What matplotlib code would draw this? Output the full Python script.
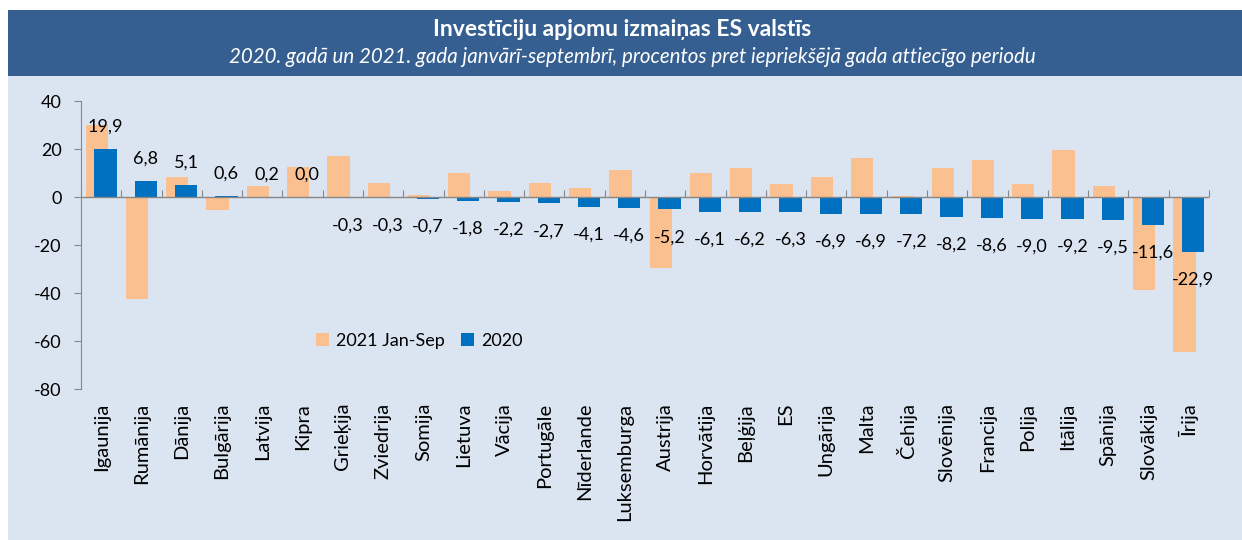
import numpy as np
import matplotlib
matplotlib.use("Agg")
import matplotlib.pyplot as plt
from matplotlib.patches import Rectangle

plt.rcParams['font.family'] = ['Lato', 'DejaVu Sans']
plt.rcParams['axes.unicode_minus'] = False

# data
countries = ["Igaunija", "Rumānija", "Dānija", "Bulgārija", "Latvija", "Kipra",
             "Grieķija", "Zviedrija", "Somija", "Lietuva", "Vācija", "Portugāle",
             "Nīderlande", "Luksemburga", "Austrija", "Horvātija", "Beļģija", "ES",
             "Ungārija", "Malta", "Čehija", "Slovēnija", "Francija", "Polija",
             "Itālija", "Spānija", "Slovākija", "Īrija"]
jan_sep_2021 = [30.0, -42.6, 8.3, -5.3, 4.6, 12.5, 16.9, 5.8, 0.8, 10.0, 2.5, 5.8,
                3.6, 11.3, -29.4, 9.9, 12.1, 5.3, 8.5, 16.4, 0.4, 12.2, 15.3, 5.3,
                19.6, 4.6, -38.9, -64.6]
y2020 = [19.9, 6.8, 5.1, 0.6, 0.2, 0.0, -0.3, -0.3, -0.7, -1.8, -2.2, -2.7,
         -4.1, -4.6, -5.2, -6.1, -6.2, -6.3, -6.9, -6.9, -7.2, -8.2, -8.6, -9.0,
         -9.2, -9.5, -11.6, -22.9]
yticks = [40, 20, 0, -20, -40, -60, -80]

c_orange = "#FAC090"
c_blue = "#0070C0"
c_head = "#365F91"
c_back = "#DBE5F1"
c_axis = "#868686"

fig = plt.figure(figsize=(12.42, 5.40), dpi=100, facecolor="white")

# header band and light background
fig.add_artist(Rectangle((8/1242, 464/540), 1 - 8/1242, 66/540, transform=fig.transFigure,
                         facecolor=c_head, edgecolor="none", zorder=-10))
fig.add_artist(Rectangle((8/1242, 0), 1 - 8/1242, 464/540, transform=fig.transFigure,
                         facecolor=c_back, edgecolor="none", zorder=-10))
fig.text(622/1242, 1 - 30/540, "Investīciju apjomu izmaiņas ES valstīs", color="white",
         fontsize=16.5, fontweight="bold", ha="center", va="center")
fig.text(632/1242, 1 - 57/540,
         "2020. gadā un 2021. gada janvārī-septembrī, procentos pret iepriekšējā gada attiecīgo periodu",
         color="white", fontsize=14.8, fontstyle="italic", ha="center", va="center")

ax = fig.add_axes([81/1242, 151/540, 1128/1242, 288/540])
ax.set_facecolor("none")

x = np.arange(len(countries))
w = 0.55
ax.bar(x - 0.11, jan_sep_2021, w, color=c_orange, label="2021 Jan-Sep", zorder=2)
ax.bar(x + 0.11, y2020, w, color=c_blue, label="2020", zorder=3)

for xi, v in zip(x, y2020):
    off = 16 if v >= 0 else -20
    ax.annotate(f"{v:.1f}".replace(".", ","), (xi + 0.11, v), xytext=(0, off),
                textcoords="offset points", ha="center", va="center", fontsize=13, zorder=5)

ax.set_xlim(-0.5, len(countries) - 0.5)
ax.set_ylim(-80, 40)
ax.set_yticks(yticks)
ax.tick_params(axis="y", length=5, color=c_axis, pad=9, labelsize=13)
ax.set_xticks(x)
ax.set_xticklabels(countries, rotation=90, fontsize=14.5)
ax.tick_params(axis="x", length=0, pad=10)
for s in ["top", "right", "bottom"]:
    ax.spines[s].set_visible(False)
ax.spines["left"].set_color(c_axis)

# zero line with category boundary ticks
ax.axhline(0, color=c_axis, lw=1, zorder=4)
zero = ax.secondary_xaxis(80/120)
zero.set_xticks(np.arange(len(countries) + 1) - 0.5)
zero.set_xticklabels([])
zero.tick_params(length=5, color=c_axis, direction="out")
zero.spines["bottom"].set_visible(False)
zero.spines["top"].set_visible(False)

ax.legend(loc="center left", bbox_to_anchor=(300/1242, 1 - 341/540), bbox_transform=fig.transFigure,
          frameon=False, fontsize=13, handlelength=0.7, handleheight=0.7, handletextpad=0.4,
          ncol=2, columnspacing=0.9)

fig.savefig("out.png", dpi=100, facecolor="white")
